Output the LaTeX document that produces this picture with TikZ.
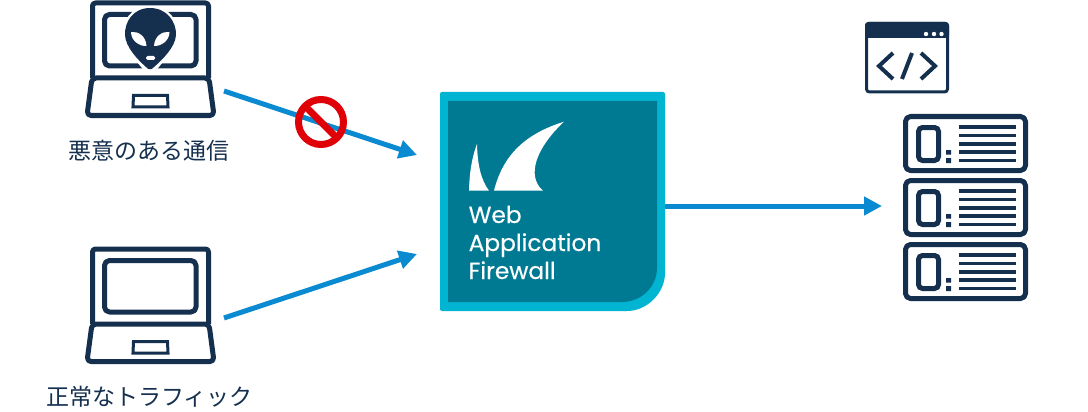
\documentclass[tikz,border=0pt]{standalone}
\usepackage{fontspec}
\newfontfamily\jpfont{Noto Sans CJK JP}
\newfontfamily\wafont[FakeBold=0.35]{Poppins}
\usetikzlibrary{arrows.meta}
\definecolor{navy}{HTML}{15304F}
\definecolor{flow}{HTML}{0A8AD0}
\definecolor{wafouter}{HTML}{00B4D2}
\definecolor{wafinner}{HTML}{007A93}
\definecolor{nored}{HTML}{E00008}
\tikzset{
  x=1pt,y=-1pt,
  icon/.style={draw=navy,line width=5pt,line join=round},
  flowline/.style={draw=flow,line width=5pt,-{Triangle[length=18pt,width=18pt]}},
  jplabel/.style={inner sep=0pt,text=navy,font=\jpfont\fontsize{23}{23}\selectfont},
  waflabel/.style={inner sep=0pt,anchor=base west,text=white,font=\wafont\fontsize{23.3}{23}\selectfont},
  laptop/.pic={
    \draw[icon,rounded corners=3pt] (92.5,78) -- (92.5,3) -- (208.5,3) -- (208.5,78);
    \draw[icon,rounded corners=5pt] (104.5,14.5) rectangle (196,66);
    \draw[icon,rounded corners=4pt] (92,78) -- (87,115.5) -- (214,115.5) -- (209,78) -- cycle;
    \draw[draw=navy,line width=3pt] (133.5,95.5) -- (167.5,95.5) -- (168,107) -- (133,107) -- cycle;
  },
  serverunit/.pic={
    \draw[icon,rounded corners=5pt] (905.5,116.5) rectangle (1025.5,170.5);
    \draw[draw=navy,line width=5pt,rounded corners=4pt] (918.5,127.5) rectangle (938.5,160.5);
    \fill[navy] (946,150) rectangle (951,154.5) (946,158) rectangle (951,163);
    \foreach \ly in {127,135.4,143.8,152.2,160.6}
      \fill[navy] (959,\ly-1.8) rectangle (1016,\ly+1.8);
  }
}
\begin{document}
\begin{tikzpicture}
\useasboundingbox (0,0) rectangle (1088,412);
\fill[white] (0,0) rectangle (1088,412);

% laptops
\pic at (0,0) {laptop};
\pic at (0,246) {laptop};
% alien
\fill[white] (150,6) .. controls (130,6) and (122,22) .. (123,36) .. controls (124,50) and (138,62) .. (145,72) -- (155,72) .. controls (162,62) and (176,50) .. (178,36) .. controls (179,22) and (170,6) .. (150,6) -- cycle;
\fill[navy] (150,8) .. controls (133,8) and (124.5,22) .. (125,35) .. controls (125.5,47) and (138,60) .. (146,67) .. controls (148,70) and (152,70) .. (154,67) .. controls (162,60) and (175.5,47) .. (176,35) .. controls (176.5,22) and (167,8) .. (150,8) -- cycle;
\fill[white] (131,32) .. controls (138,31) and (146,36) .. (146.5,46) .. controls (140,46.5) and (131,41) .. (131,32) -- cycle;
\fill[white] (169.5,32) .. controls (162.5,31) and (154.5,36) .. (154,46) .. controls (160.5,46.5) and (169.5,41) .. (169.5,32) -- cycle;
\fill[white,rounded corners=1.5pt] (146,56) rectangle (155,60);

\node[jplabel] (badlabel) at (149,151) {悪意のある通信};
\node[jplabel] (goodlabel) at (149.5,397) {正常なトラフィック};

% WAF block
\fill[wafouter,rounded corners=2pt] (440,92) -- (665,92) -- (665,271) .. controls (665,293) and (647,311) .. (625,311) -- (440,311) -- cycle;
\fill[wafinner] (448,101) -- (657,101) -- (657,268) .. controls (657,287) and (641,302) .. (622,302) -- (448,302) -- cycle;
\fill[white] (477,144) .. controls (477.5,165) and (481,180) .. (489,190.7) -- (469,190.7) .. controls (469.5,172) and (472,157) .. (477,144) -- cycle;
\fill[white] (564,121.7) .. controls (525,134) and (503,155) .. (494,190.7) -- (543,190.7) .. controls (526,176) and (536,148) .. (564,121.7) -- cycle;
\node[waflabel] (wafweb) at (468.5,223) {Web};
\node[waflabel] (wafapp) at (468.5,251) {Application};
\node[waflabel] (waffire) at (468.5,279) {Firewall};

% code window
\draw[draw=navy,line width=3pt,rounded corners=3pt,fill=white] (866.5,23.5) rectangle (947.5,92);
\fill[navy,rounded corners=3pt] (865,22) rectangle (949,38);
\fill[navy] (865,32) rectangle (949,38.5);
\fill[white] (926,34) circle (2.2) (934,34) circle (2.2) (941.5,34) circle (2.2);
\draw[navy,line width=4pt] (893,53) -- (879,66) -- (893,79);
\draw[navy,line width=4pt] (912,53) -- (902,79);
\draw[navy,line width=4pt] (921,53) -- (935,66) -- (921,79);

% servers
\pic at (0,0) {serverunit};
\pic at (0,64) {serverunit};
\pic at (0,128) {serverunit};

% connectors
\coordinate (badstart) at (224,91);
\coordinate (wafinA) at (417,155);
\coordinate (goodstart) at (224,318);
\coordinate (wafinB) at (417,254);
\coordinate (wafout) at (665,206);
\coordinate (serverin) at (882,206);
\draw[flowline] (badstart) -- (wafinA);
\draw[flowline] (goodstart) -- (wafinB);
\draw[flowline] (wafout) -- (serverin);

% prohibition sign
\draw[nored,line width=7pt] (321,122) circle (22.5);
\draw[nored,line width=7pt] (305,106) -- (337,138);
\end{tikzpicture}
\end{document}
